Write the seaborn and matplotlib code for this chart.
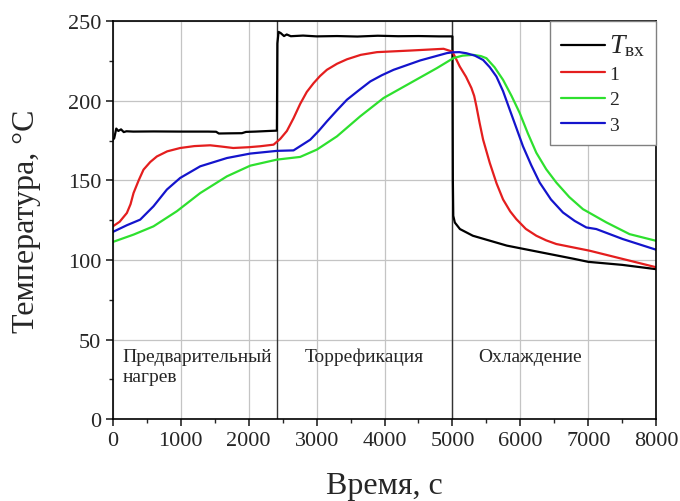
import numpy as np
import pandas as pd
import matplotlib
matplotlib.use("Agg")
import matplotlib.pyplot as plt
import seaborn as sns

# входная температура (чёрная)
t_vx = [0, 20, 50, 80, 120, 160, 200, 300, 600, 1000, 1400, 1520, 1560, 1700, 1900, 1960,
        2100, 2300, 2415, 2422, 2440, 2470, 2520, 2560, 2620, 2800, 3000, 3300, 3600, 3900,
        4200, 4500, 4800, 5000, 5006, 5012, 5035, 5110, 5300, 5800, 6300, 6800, 7000, 7500, 8000]
T_vx = [175.4, 176.5, 182.5, 181.0, 182.0, 180.3, 180.8, 180.6, 180.7, 180.6, 180.6, 180.5, 179.4, 179.5, 179.6, 180.4,
        180.6, 181.0, 181.2, 236.0, 243.2, 242.5, 240.6, 241.6, 240.5, 240.9, 240.4, 240.6, 240.3, 240.8,
        240.5, 240.6, 240.4, 240.4, 150.0, 127.7, 123.5, 119.4, 115.2, 109.0, 104.8, 100.6, 98.8, 96.9, 94.2]

t1 = [0, 100, 206, 260, 304, 380, 451, 550, 648, 800, 991, 1200, 1433, 1600, 1772, 2000, 2170, 2366,
      2464, 2562, 2660, 2758, 2855, 2955, 3050, 3151, 3300, 3446, 3650, 3888, 4379, 4869,
      5000, 5050, 5107, 5200, 5279, 5320, 5353, 5400, 5451, 5549, 5650, 5745, 5850, 5941,
      6080, 6235, 6380, 6529, 7019, 7509, 8000]
T1 = [121.1, 124.0, 129.5, 135.0, 142.0, 150.0, 156.7, 161.5, 165.0, 168.2, 170.3, 171.5, 172.0, 171.2, 170.3, 170.8, 171.4, 172.4,
      176.0, 181.0, 189.0, 198.0, 205.5, 211.0, 215.5, 219.4, 223.2, 226.0, 228.8, 230.5, 231.5, 232.6,
      230.8, 226.5, 221.5, 215.0, 208.0, 203.0, 196.4, 186.0, 175.6, 161.0, 148.0, 138.0, 130.5, 125.6,
      119.5, 115.2, 112.3, 110.0, 105.8, 100.6, 95.4]

t2 = [0, 304, 598, 942, 1286, 1679, 2022, 2415, 2758, 3004, 3299, 3642, 3986, 4379, 4772,
      5016, 5150, 5304, 5420, 5500, 5620, 5745, 5870, 5990, 6110, 6235, 6380, 6529, 6720, 6921,
      7265, 7608, 8000]
T2 = [111.3, 115.9, 121.1, 130.6, 142.0, 152.5, 159.2, 163.0, 164.7, 169.3, 177.6, 190.2, 201.7, 211.1, 220.5,
      226.8, 228.3, 228.8, 228.0, 226.7, 221.0, 213.1, 203.0, 192.3, 179.5, 167.3, 157.0, 148.6, 139.5, 131.9,
      123.6, 116.2, 112.0]

t3 = [0, 206, 402, 598, 795, 991, 1286, 1679, 2022, 2415, 2660, 2906, 3030, 3151, 3300, 3446,
      3620, 3790, 3960, 4133, 4526, 4919, 5005, 5100, 5206, 5330, 5451, 5550, 5647, 5745,
      5843, 5940, 6038, 6160, 6284, 6450, 6627, 6800, 6971, 7118, 7509, 8000]
T3 = [117.6, 121.8, 125.3, 133.7, 144.2, 151.5, 158.8, 164.0, 166.8, 168.5, 168.8, 175.5, 181.0, 187.0, 194.0, 200.6,
      206.5, 212.1, 216.0, 219.4, 225.3, 229.9, 230.4, 230.5, 229.8, 228.3, 225.6, 221.0, 215.2, 206.0,
      194.4, 183.0, 171.4, 159.5, 148.6, 138.0, 129.8, 124.5, 120.4, 119.4, 113.1, 106.4]

series = [("$\\mathit{T}_{\\mathrm{вх}}$", t_vx, T_vx, "black"),
          ("1", t1, T1, "#e41e1e"),
          ("2", t2, T2, "#2ee02e"),
          ("3", t3, T3, "#1414cc")]

stages = ["Предварительный\nнагрев", "Торрефикация", "Охлаждение"]
stage_x = [140, 2830, 5380]
bounds = [2420, 5000]

sns.set_style("ticks")
plt.rcParams["font.family"] = ["Liberation Serif", "DejaVu Serif"]
plt.rcParams["mathtext.fontset"] = "custom"
plt.rcParams["mathtext.rm"] = "Liberation Serif"
plt.rcParams["mathtext.it"] = "Liberation Serif:italic"

fig = plt.figure(figsize=(6.8, 5.02), dpi=100)
ax = fig.add_axes([0.166, 0.163, 0.799, 0.793])

ax.grid(True, color="#c4c4c4", linewidth=0.9)
ax.set_axisbelow(True)
for b in bounds:
    ax.axvline(b, color="#333333", linewidth=1.0, zorder=1)

for name, t, T, c in series:
    df = pd.DataFrame({"t": t, "T": T})
    sns.lineplot(data=df, x="t", y="T", ax=ax, color=c, linewidth=1.6,
                 estimator=None, sort=False, label=name)

for txt, x in zip(stages, stage_x):
    ax.text(x, 45, txt, fontsize=14, va="top", ha="left", linespacing=1.25)

ax.set_xlim(0, 8000)
ax.set_ylim(0, 250)
ax.set_xticks(range(0, 8001, 1000))
ax.set_yticks(range(0, 251, 50))
ax.set_xticks(range(500, 8000, 1000), minor=True)
ax.set_yticks(range(25, 250, 50), minor=True)
ax.tick_params(which="major", labelsize=16, length=5, width=1.2, direction="out")
ax.tick_params(which="minor", length=3, width=1.0, direction="out")
ax.set_xlabel("Время, с", fontsize=23, labelpad=15)
ax.set_ylabel("Температура, °C", fontsize=23, labelpad=19)
for s in ax.spines.values():
    s.set_linewidth(1.2)
    s.set_color("black")

leg = ax.legend(loc="upper right", borderaxespad=0, fontsize=14, handlelength=2.3,
                fancybox=False, framealpha=1, edgecolor="#808080", labelspacing=0.4,
                borderpad=0.55, handletextpad=0.2)
leg.get_frame().set_linewidth(1.0)
leg.get_texts()[0].set_fontsize(20)

fig.savefig("out.png", dpi=100)
